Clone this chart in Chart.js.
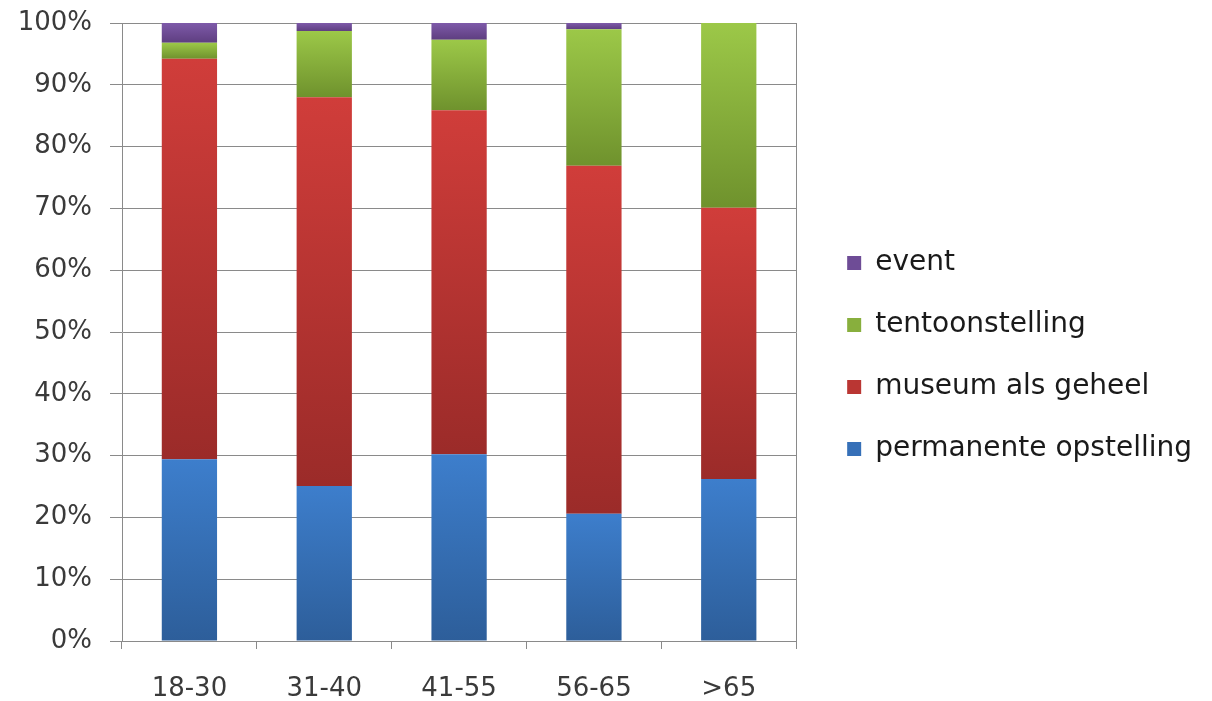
<!DOCTYPE html>
<html>
<head>
<meta charset="utf-8">
<script src="https://cdn.jsdelivr.net/npm/chart.js@4"></script>
<style>
  html, body { margin: 0; padding: 0; background: #ffffff; }
  #wrap { width: 1212px; height: 701px; position: relative; }
</style>
</head>
<body>
<div id="wrap"><canvas id="c"></canvas></div>
<script>
// ---- data ----
const categories = ['18-30', '31-40', '41-55', '56-65', '>65'];
const seriesNames = ['permanente opstelling', 'museum als geheel', 'tentoonstelling', 'event'];
const permanenteOpstelling = [29.4, 25.1, 30.2, 20.6, 26.2];
const museumAlsGeheel = [64.8, 62.9, 55.7, 56.3, 43.9];
const tentoonstelling = [2.6, 10.7, 11.4, 22.1, 29.9];
const eventValues = [3.2, 1.3, 2.7, 1.0, 0];
const yTickValues = [0, 10, 20, 30, 40, 50, 60, 70, 80, 90, 100];

// ---- styles ----
const gradColors = [
  ['#3D7ECC', '#2D5E9A'],
  ['#D03D3A', '#9B2B29'],
  ['#9CC848', '#6F922D'],
  ['#7E5AA9', '#5E3E80']
];
const solidColors = ['#3670B8', '#BA3633', '#88AF3D', '#6E4C96'];
const FONT = "'DejaVu Sans', sans-serif";
const GRID = '#8a8a8a';
const TEXT = '#3a3a3a';

function segGradient(c) {
  const chart = c.chart;
  const cols = gradColors[c.datasetIndex];
  if (c.type !== 'data' || !chart.chartArea || !chart.scales.y) return solidColors[c.datasetIndex];
  const ds = chart.data.datasets;
  let start = 0;
  for (let d = 0; d < c.datasetIndex; d++) start += ds[d].data[c.dataIndex];
  const end = start + ds[c.datasetIndex].data[c.dataIndex];
  const ys = chart.scales.y;
  const yTop = ys.getPixelForValue(end), yBot = ys.getPixelForValue(start);
  if (!(yBot > yTop)) return solidColors[c.datasetIndex];
  const g = chart.ctx.createLinearGradient(0, yTop, 0, yBot);
  g.addColorStop(0, cols[0]);
  g.addColorStop(1, cols[1]);
  return g;
}

const seriesData = [permanenteOpstelling, museumAlsGeheel, tentoonstelling, eventValues];

// nudge the legend block up a few pixels to match the reference placement
const legendNudge = {
  id: 'legendNudge',
  afterLayout(chart) {
    const l = chart.legend;
    if (l) { l.top -= 6; l.bottom -= 6; }
  }
};

new Chart(document.getElementById('c'), {
  type: 'bar',
  plugins: [legendNudge],
  data: {
    labels: categories,
    datasets: seriesData.map((d, i) => ({
      label: seriesNames[i],
      data: d,
      backgroundColor: segGradient,
      borderWidth: 0,
      categoryPercentage: 1,
      barPercentage: 0.41
    }))
  },
  options: {
    responsive: true,
    maintainAspectRatio: false,
    animation: false,
    layout: { padding: { top: 23, left: 0, bottom: 0, right: 10 } },
    plugins: {
      tooltip: { enabled: false },
      legend: {
        position: 'right',
        reverse: true,
        maxWidth: 460,
        labels: {
          boxWidth: 14,
          boxHeight: 14,
          padding: 34,
          color: '#1a1a1a',
          font: { family: FONT, size: 28 },
          generateLabels(chart) {
            const items = Chart.defaults.plugins.legend.labels.generateLabels(chart);
            items.forEach(it => {
              it.fillStyle = solidColors[it.datasetIndex];
              it.strokeStyle = 'rgba(0,0,0,0)';
              it.lineWidth = 0;
            });
            return items;
          }
        }
      }
    },
    scales: {
      x: {
        stacked: true,
        offset: true,
        grid: { offset: true, drawOnChartArea: false, drawTicks: true, tickLength: 8, color: GRID },
        border: { color: GRID, width: 1 },
        ticks: { color: TEXT, font: { family: FONT, size: 26 }, padding: 25, maxRotation: 0 },
        afterFit(s) { s.height = 60; s.paddingLeft = 0; s.paddingRight = 0; }
      },
      y: {
        stacked: true,
        min: 0,
        max: 100,
        afterBuildTicks(s) { s.ticks = yTickValues.map(v => ({ value: v })); },
        grid: { color: GRID, tickLength: 12, drawTicks: true },
        border: { color: GRID, width: 1 },
        ticks: { color: TEXT, font: { family: FONT, size: 26 }, padding: 18, callback: v => v + '%' },
        afterFit(s) { s.width = 122; s.paddingTop = 0; s.paddingBottom = 0; }
      },
      y2: {
        position: 'right',
        display: true,
        grid: { display: false, drawTicks: false },
        border: { display: true, color: GRID, width: 1 },
        ticks: { display: false },
        afterFit(s) { s.width = 17; s.paddingTop = 0; s.paddingBottom = 0; }
      }
    }
  }
});
</script>
</body>
</html>
